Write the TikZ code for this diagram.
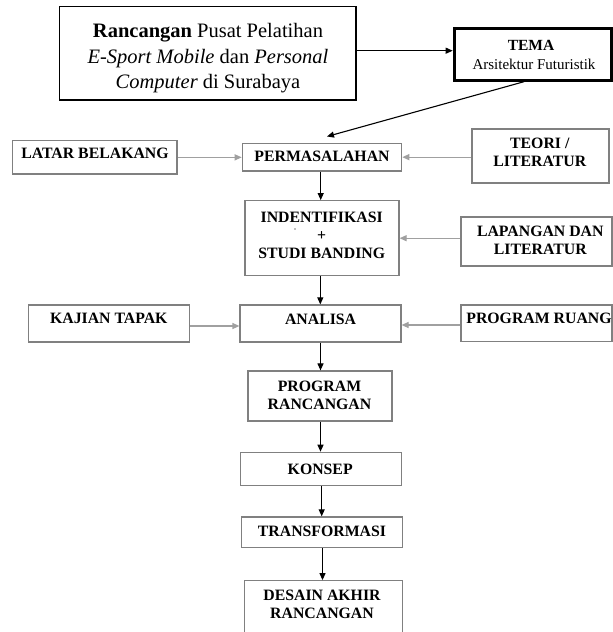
\documentclass[tikz,border=0pt]{standalone}
\usepackage{fontspec}
\setmainfont{Liberation Serif}
\usetikzlibrary{arrows.meta,calc}
\definecolor{boxgray}{HTML}{808080}
\definecolor{arrgray}{HTML}{A0A0A0}
\begin{document}
\begin{tikzpicture}[x=1pt,y=-1pt,
  bx/.style={draw=boxgray, line width=1.2pt, inner sep=0pt, rectangle},
  tx/.style={inner sep=0pt, align=center, font=\fontsize{15.8}{18}\selectfont\bfseries},
  garrow/.style={draw=arrgray, line width=1.2pt, -{Triangle[length=7pt,width=6pt]}},
  barrow/.style={draw=black, line width=1.1pt, -{Triangle[length=7pt,width=6pt]}}]
\fill[white] (0,0) rectangle (613,632);
\useasboundingbox (0,0) rectangle (613,632);

% top box
\node[bx, draw=black, minimum width=296.7pt, minimum height=93.3pt] (top) at (207.65,53.35) {};
\node[inner sep=0pt, align=center, font=\fontsize{20.5}{25.2}\selectfont] (topt) at (208,58.1)
  {\textbf{Rancangan} Pusat Pelatihan\\ \textit{E-Sport Mobile} dan \textit{Personal}\\ \textit{Computer} di Surabaya};

% tema box
\node[draw=black, line width=3pt, inner sep=0pt, minimum width=157.3pt, minimum height=51.4pt] (tema) at (532.85,54.5) {};
\node[inner sep=0pt, font=\fontsize{15.5}{18}\selectfont\bfseries] (temat1) at (531,45.2) {TEMA};
\node[inner sep=0pt, font=\fontsize{15}{18}\selectfont] (temat2) at (534,64.7) {Arsitektur Futuristik};

% row 1
\node[bx, minimum width=164.7pt, minimum height=33.3pt] (latar) at (94.65,157.35) {};
\node[tx] (latart) at (95,153.5) {LATAR BELAKANG};
\node[bx, minimum width=159.4pt, minimum height=27.7pt] (perm) at (322,157.15) {};
\node[tx] (permt) at (322,156.3) {PERMASALAHAN};
\node[bx, minimum width=137pt, minimum height=54pt] (teori) at (540.5,156) {};
\node[tx] (teorit) at (539.8,152.5) {TEORI /\\LITERATUR};

% row 2
\node[bx, minimum width=154pt, minimum height=75pt] (indent) at (322,238.2) {};
\node[tx] (indentt) at (321.7,235) {INDENTIFIKASI\\+\\STUDI BANDING};
\fill[boxgray] (295,229) circle (0.8pt);
\node[bx, minimum width=151pt, minimum height=49pt] (lap) at (536.5,241.5) {};
\node[tx] (lapt) at (540.3,240) {LAPANGAN DAN\\LITERATUR};

% row 3
\node[bx, minimum width=161pt, minimum height=37pt] (kajian) at (108.8,323.5) {};
\node[tx] (kajiant) at (108.8,318.3) {KAJIAN TAPAK};
\node[bx, minimum width=161pt, minimum height=37pt] (analisa) at (320.5,323.5) {};
\node[tx] (analisat) at (320.6,319.5) {ANALISA};
\node[bx, minimum width=151pt, minimum height=36.7pt] (pruang) at (536.5,323.35) {};
\node[tx] (pruangt) at (539,318.5) {PROGRAM RUANG};

% column
\node[bx, minimum width=144pt, minimum height=50pt] (prancang) at (320,396) {};
\node[tx] (prancangt) at (319.5,395.7) {PROGRAM\\RANCANGAN};
\node[bx, minimum width=161pt, minimum height=33pt] (konsep) at (320.8,468.8) {};
\node[tx] (konsept) at (320.2,469) {KONSEP};
\node[bx, minimum width=161pt, minimum height=30.7pt] (transf) at (322.2,532.3) {};
\node[tx] (transft) at (322,531) {TRANSFORMASI};
\node[bx, minimum width=158.4pt, minimum height=64.3pt] (desain) at (323.5,612.85) {};
\node[tx] (desaint) at (322,604) {DESAIN AKHIR\\RANCANGAN};

% black arrows
\draw[barrow] ([yshift=2.65pt]top.east) -- ([yshift=2.65pt]top.east -| tema.west);
\draw[barrow] ([xshift=-8.85pt]tema.south) -- ([xshift=5pt,yshift=6.2pt]perm.north);
\draw[barrow] ([xshift=-1.3pt]perm.south) -- ([xshift=-1.3pt]perm.south |- indent.north);
\draw[barrow] ([xshift=-1.7pt]indent.south) -- ([xshift=-1.7pt]indent.south |- analisa.north);
\draw[barrow] (analisa.south) -- (analisa.south |- prancang.north);
\draw[barrow] ([xshift=0.5pt]prancang.south) -- ([xshift=0.5pt]prancang.south |- konsep.north);
\draw[barrow] ([xshift=0.9pt]konsep.south) -- ([xshift=0.9pt]konsep.south |- transf.north);
\draw[barrow] ([xshift=0.3pt]transf.south) -- ([xshift=0.3pt]transf.south |- desain.north);

% gray arrows
\draw[garrow] (latar.east) -- (latar.east -| perm.west);
\draw[garrow] (perm.east -| teori.west) -- (perm.east);
\draw[garrow] (indent.east -| lap.west) -- (indent.east);
\draw[garrow] ([yshift=-2.5pt]kajian.east) -- ([yshift=-2.5pt]kajian.east -| analisa.west);
\draw[garrow] ([yshift=-1.5pt]analisa.east -| pruang.west) -- ([yshift=-1.5pt]analisa.east);
\end{tikzpicture}
\end{document}
